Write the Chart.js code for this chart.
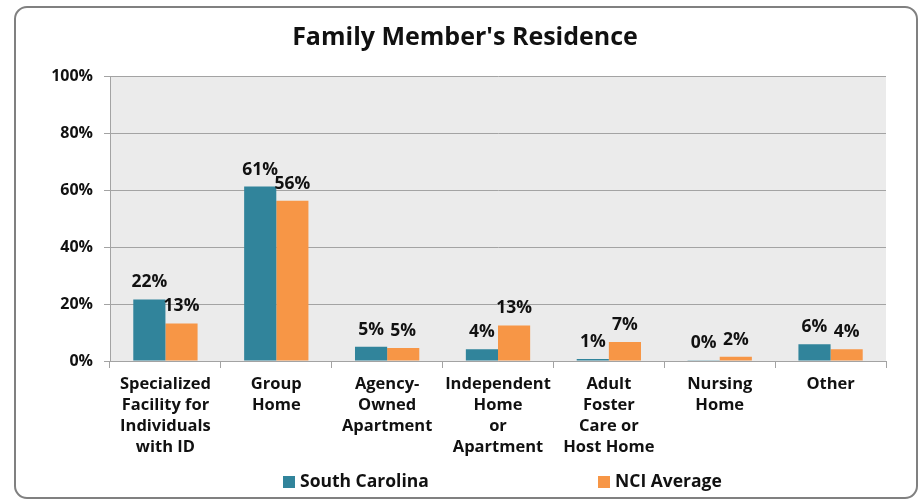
<!DOCTYPE html>
<html lang="en">
<head>
<meta charset="UTF-8">
<title>Family Member's Residence</title>
<script src="https://cdn.jsdelivr.net/npm/chart.js"></script>
<style>
    body { margin: 0; background: #fff; }
    #wrap { width: 923px; height: 501px; }
</style>
</head>
<body>
<div id="wrap"><canvas id="residenceChart" width="923" height="501"></canvas></div>
<script>
// categories (multi-line x labels)
const categories = [
    ['Specialized', 'Facility for', 'Individuals', 'with ID'],
    ['Group', 'Home'],
    ['Agency-', 'Owned', 'Apartment'],
    ['Independent', 'Home', 'or', 'Apartment'],
    ['Adult', 'Foster', 'Care or', 'Host Home'],
    ['Nursing', 'Home'],
    ['Other']
];
const seriesNames = ['South Carolina', 'NCI Average'];
const southCarolina = [21.6, 61.2, 5.0, 4.1, 0.7, 0.25, 5.9];
const nciAverage = [13.2, 56.2, 4.6, 12.5, 6.7, 1.5, 4.1];
const yTicks = [0, 20, 40, 60, 80, 100];
const chartTitle = "Family Member's Residence";

const FONT = "'Open Sans', 'Liberation Sans', sans-serif";
const GRID = '#a3a3a3';

// grey plot background, rounded outer frame and title
const framePlugin = {
    id: 'frame',
    beforeDraw(chart) {
        const { ctx, chartArea: a } = chart;
        ctx.save();
        ctx.fillStyle = '#ebebeb';
        ctx.fillRect(a.left, a.top, a.right - a.left, a.bottom - a.top);
        ctx.restore();
    },
    afterDraw(chart) {
        const ctx = chart.ctx;
        ctx.save();
        ctx.strokeStyle = '#808080';
        ctx.lineWidth = 2;
        ctx.beginPath();
        ctx.roundRect(15, 7, 902, 491, 12);
        ctx.stroke();
        ctx.font = 'bold 25px ' + FONT;
        ctx.fillStyle = '#111';
        ctx.textAlign = 'center';
        ctx.textBaseline = 'middle';
        ctx.fillText(chartTitle, 465, 38);
        ctx.restore();
    }
};

// value labels above each bar
const valueLabels = {
    id: 'valueLabels',
    afterDatasetsDraw(chart) {
        const ctx = chart.ctx;
        ctx.save();
        ctx.font = 'bold 17.5px ' + FONT;
        ctx.fillStyle = '#111';
        ctx.textAlign = 'center';
        ctx.textBaseline = 'middle';
        chart.data.datasets.forEach((ds, i) => {
            chart.getDatasetMeta(i).data.forEach((bar, j) => {
                ctx.fillText(Math.round(ds.data[j]) + '%', bar.x, bar.y - 17);
            });
        });
        ctx.restore();
    }
};

// legend spread out like the original
const spreadLegend = {
    id: 'spreadLegend',
    afterDraw(chart) {
        const ctx = chart.ctx;
        const xs = [283, 598];
        const y = 482;
        ctx.save();
        ctx.font = 'bold 17.5px ' + FONT;
        ctx.textBaseline = 'middle';
        ctx.textAlign = 'left';
        chart.data.datasets.forEach((ds, i) => {
            ctx.fillStyle = ds.backgroundColor;
            ctx.fillRect(xs[i], y - 6, 12, 12);
            ctx.fillStyle = '#111';
            ctx.fillText(ds.label, xs[i] + 17, y);
        });
        ctx.restore();
    }
};

new Chart(document.getElementById('residenceChart'), {
    type: 'bar',
    data: {
        labels: categories,
        datasets: [
            { label: seriesNames[0], data: southCarolina, backgroundColor: '#31849b' },
            { label: seriesNames[1], data: nciAverage, backgroundColor: '#f79646' }
        ]
    },
    options: {
        responsive: false,
        animation: false,
        layout: { padding: { left: 0, right: 37, top: 76, bottom: 40 } },
        datasets: { bar: { categoryPercentage: 0.58, barPercentage: 1 } },
        plugins: {
            legend: { display: false },
            tooltip: { enabled: false },
            title: { display: false }
        },
        scales: {
            x: {
                grid: { offset: true, drawOnChartArea: false, drawTicks: true, tickLength: 7, color: GRID },
                border: { color: GRID },
                ticks: {
                    color: '#111',
                    padding: 6,
                    maxRotation: 0,
                    autoSkip: false,
                    font: { family: FONT, size: 16.5, weight: 'bold', lineHeight: '21px' }
                },
                afterFit(scale) { scale.height = 100; }
            },
            y: {
                min: 0,
                max: 100,
                afterBuildTicks(scale) { scale.ticks = yTicks.map(v => ({ value: v })); },
                grid: { color: GRID, tickLength: 6 },
                border: { color: GRID },
                ticks: {
                    color: '#111',
                    padding: 11,
                    font: { family: FONT, size: 16, weight: 'bold' },
                    callback: v => v + '%'
                },
                afterFit(scale) { scale.width = 110; }
            }
        }
    },
    plugins: [framePlugin, valueLabels, spreadLegend]
});
</script>
</body>
</html>
